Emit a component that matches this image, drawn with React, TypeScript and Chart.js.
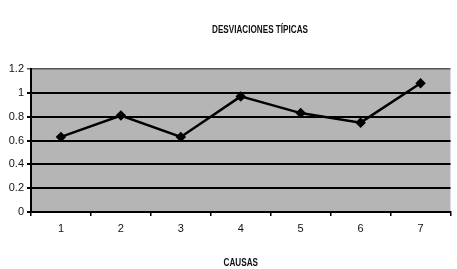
import React, { useEffect, useRef } from "react";
import { Chart, registerables } from "chart.js";

Chart.register(...registerables);

const categories = ["1", "2", "3", "4", "5", "6", "7"];
const values = [0.63, 0.81, 0.63, 0.97, 0.83, 0.75, 1.08];
const yTicks = [0, 0.2, 0.4, 0.6, 0.8, 1, 1.2];
const chartTitle = "DESVIACIONES TÍPICAS";
const xTitle = "CAUSAS";

const FONT = "'Liberation Sans Narrow', 'Arial Narrow', 'Liberation Sans', sans-serif";

const plotBg = {
  id: "plotBg",
  beforeDraw(chart: any) {
    const { ctx, chartArea } = chart;
    if (!chartArea) return;
    ctx.save();
    ctx.fillStyle = "#b5b5b5";
    ctx.fillRect(chartArea.left, chartArea.top, chartArea.right - chartArea.left, chartArea.bottom - chartArea.top);
    ctx.restore();
  },
};

function narrowText(ctx: any, text: string, cx: number, cy: number) {
  ctx.save();
  ctx.fillStyle = "#111";
  ctx.font = "bold 11px " + FONT;
  ctx.textAlign = "center";
  ctx.textBaseline = "middle";
  ctx.translate(cx, cy);
  ctx.scale(0.74, 1);
  ctx.fillText(text, 0, 0);
  ctx.restore();
}

const titlePlugin = {
  id: "customTitles",
  afterDraw(chart: any) {
    const { ctx, chartArea } = chart;
    narrowText(ctx, chartTitle, 260, 30);
    const cx = (chartArea.left + chartArea.right) / 2;
    narrowText(ctx, xTitle, cx, 263);
  },
};

export default function App() {
  const ref = useRef<HTMLCanvasElement>(null);
  useEffect(() => {
    document.body.style.margin = "0";
    const chart = new Chart(ref.current!, {
      type: "line",
      data: {
        labels: categories,
        datasets: [
          {
            data: values,
            borderColor: "#000",
            backgroundColor: "#000",
            borderWidth: 2.5,
            pointStyle: "rectRot",
            pointRadius: 3.5,
            tension: 0,
          },
        ],
      },
      options: {
        animation: false,
        responsive: false,
        maintainAspectRatio: false,
        layout: { padding: { left: 0, right: 0, top: 69, bottom: 0 } },
        plugins: {
          legend: { display: false },
          tooltip: { enabled: false },
          title: { display: false },
        },
        scales: {
          x: {
            type: "category",
            offset: true,
            grid: {
              offset: true,
              drawOnChartArea: false,
              drawTicks: true,
              tickLength: 4,
              color: "#000",
              lineWidth: 1.5,
            },
            border: { display: true, color: "#000", width: 2 },
            ticks: { color: "#111", font: { family: FONT, size: 11 }, padding: 6, maxRotation: 0 },
            afterFit(scale: any) {
              scale.height = 57;
            },
          },
          y: {
            min: 0,
            max: 1.2,
            afterBuildTicks(scale: any) {
              scale.ticks = yTicks.map((v) => ({ value: v }));
            },
            grid: {
              color: (c: any) => (c.tick && c.tick.value >= 1.2 ? "#555" : "#000"),
              lineWidth: (c: any) => (c.tick && c.tick.value >= 1.2 ? 1.5 : 2),
              drawTicks: true,
              tickLength: 4,
            },
            border: { display: true, color: "#000", width: 2 },
            ticks: {
              color: "#111",
              font: { family: FONT, size: 11 },
              padding: 3,
              callback: (v: any) => String(Math.round(Number(v) * 10) / 10),
            },
            afterFit(scale: any) {
              scale.width = 31;
            },
          },
        },
      },
      plugins: [plotBg, titlePlugin],
    });
    return () => chart.destroy();
  }, []);
  return (
    <div style={{ position: "absolute", left: 0, top: 0, width: 457, height: 269, background: "#fff" }}>
      <canvas ref={ref} width={457} height={269} />
    </div>
  );
}
